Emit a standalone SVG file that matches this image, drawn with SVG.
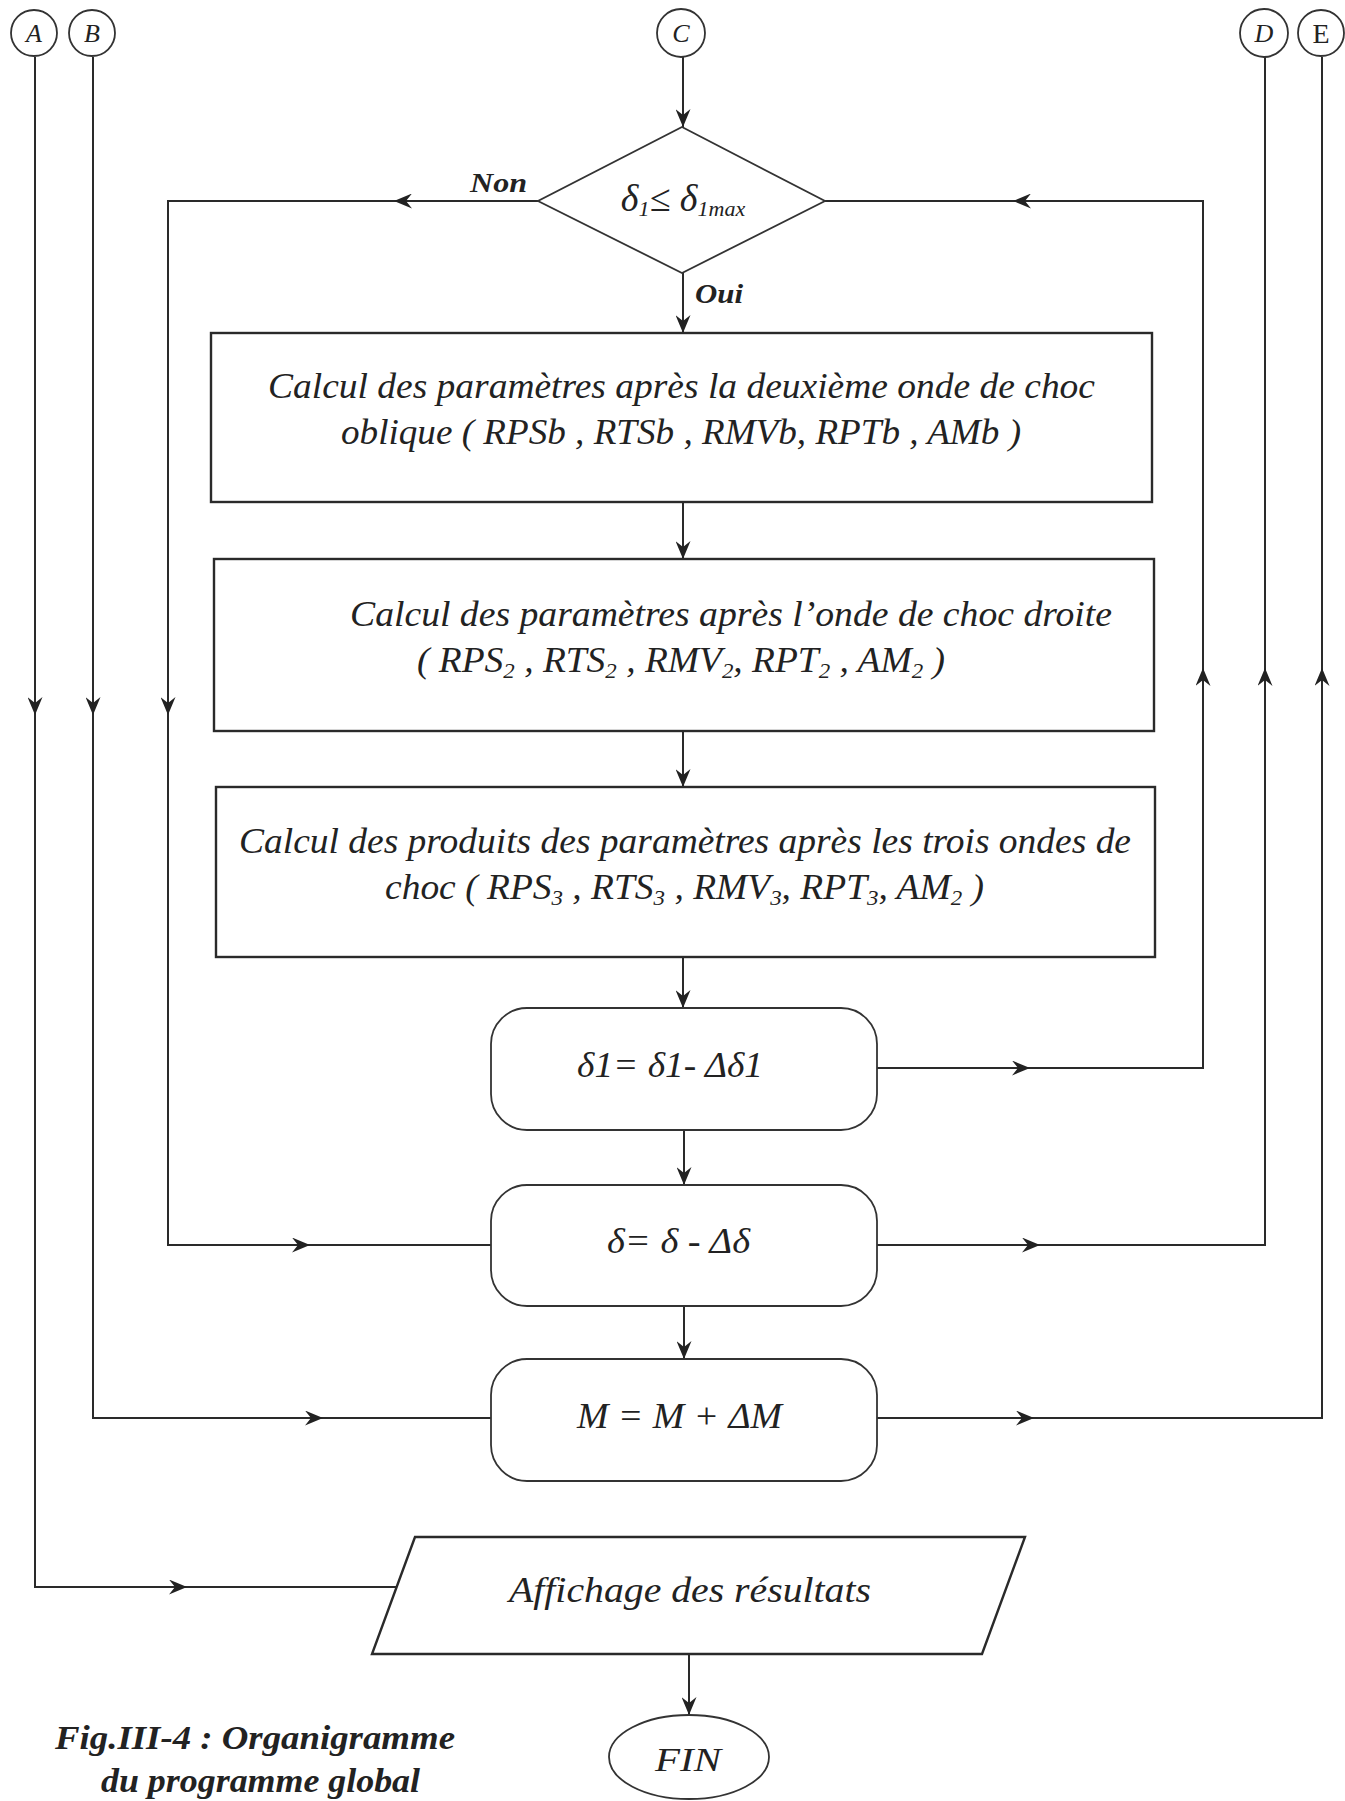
<svg xmlns="http://www.w3.org/2000/svg" width="1345" height="1801" viewBox="0 0 1345 1801">
<defs>
<style>
.shape{fill:#fff;stroke:#2a2a2a;stroke-width:2.4}
.thin{fill:#fff;stroke:#333;stroke-width:1.8}
.con{fill:none;stroke:#2a2a2a;stroke-width:2}
.t{font-family:"Liberation Serif","Times New Roman",serif;font-style:italic;fill:#222}
.b{font-family:"Liberation Serif","Times New Roman",serif;font-style:italic;font-weight:bold;fill:#222}
</style>
<marker id="arr" viewBox="0 0 12 10" refX="12" refY="5" markerUnits="userSpaceOnUse" markerWidth="20" markerHeight="15" orient="auto">
<path d="M0,0 L12,5 L0,10 L4,5 Z" fill="#222"/>
</marker>
</defs>
<rect width="1345" height="1801" fill="#fff"/>

<g id="connectors">
<path class="con" d="M683,57 V127" marker-end="url(#arr)"/>
<path class="con" d="M683,273 V333" marker-end="url(#arr)"/>
<path class="con" d="M683,502 V559" marker-end="url(#arr)"/>
<path class="con" d="M683,731 V787" marker-end="url(#arr)"/>
<path class="con" d="M683,957 V1008" marker-end="url(#arr)"/>
<path class="con" d="M684,1130 V1185" marker-end="url(#arr)"/>
<path class="con" d="M684,1306 V1359" marker-end="url(#arr)"/>
<path class="con" d="M689,1654 V1715" marker-end="url(#arr)"/>
<!-- Non loop -->
<path class="con" d="M538,201 H394" marker-end="url(#arr)"/>
<path class="con" d="M394,201 H168 V715" marker-end="url(#arr)"/>
<path class="con" d="M168,715 V1245 H310" marker-end="url(#arr)"/>
<path class="con" d="M310,1245 H491"/>
<!-- right loop back to decision -->
<path class="con" d="M877,1068 H1030" marker-end="url(#arr)"/>
<path class="con" d="M1030,1068 H1203 V668" marker-end="url(#arr)"/>
<path class="con" d="M1203,668 V201 H1013" marker-end="url(#arr)"/>
<path class="con" d="M1013,201 H825"/>
<!-- D -->
<path class="con" d="M877,1245 H1040" marker-end="url(#arr)"/>
<path class="con" d="M1040,1245 H1265 V668" marker-end="url(#arr)"/>
<path class="con" d="M1265,668 V57"/>
<!-- E -->
<path class="con" d="M877,1418 H1034" marker-end="url(#arr)"/>
<path class="con" d="M1034,1418 H1322 V668" marker-end="url(#arr)"/>
<path class="con" d="M1322,668 V57"/>
<!-- A -->
<path class="con" d="M35,57 V715" marker-end="url(#arr)"/>
<path class="con" d="M35,715 V1587 H187" marker-end="url(#arr)"/>
<path class="con" d="M187,1587 H397"/>
<!-- B -->
<path class="con" d="M93,57 V715" marker-end="url(#arr)"/>
<path class="con" d="M93,715 V1418 H323" marker-end="url(#arr)"/>
<path class="con" d="M323,1418 H491"/>
</g>

<g id="nodeA"><circle class="thin" cx="34" cy="33" r="23"/><text class="t" x="34" y="42" font-size="26" text-anchor="middle">A</text></g>
<g id="nodeB"><circle class="thin" cx="92" cy="33" r="23"/><text class="t" x="92" y="42" font-size="26" text-anchor="middle">B</text></g>
<g id="nodeC"><circle class="thin" cx="681" cy="33" r="24"/><text class="t" x="681" y="42" font-size="26" text-anchor="middle">C</text></g>
<g id="nodeD"><circle class="thin" cx="1264" cy="33" r="24"/><text class="t" x="1264" y="42" font-size="26" text-anchor="middle">D</text></g>
<g id="nodeE"><circle class="thin" cx="1321" cy="33" r="23"/><text x="1321" y="43" font-size="28" text-anchor="middle" font-family="Liberation Serif,serif" fill="#222">E</text></g>

<g id="decision">
<polygon class="thin" points="682,127 825,201 682,273 538,201"/>
<text class="t" x="683" y="211" font-size="38" text-anchor="middle">δ<tspan font-size="22" dy="5">1</tspan><tspan dy="-5">≤ δ</tspan><tspan font-size="22" dy="5">1max</tspan></text>
<text class="b" x="470" y="192" font-size="28" textLength="57" lengthAdjust="spacingAndGlyphs">Non</text>
<text class="b" x="695" y="303" font-size="28" textLength="48" lengthAdjust="spacingAndGlyphs">Oui</text>
</g>

<g id="box1">
<rect class="shape" x="211" y="333" width="941" height="169"/>
<text class="t" x="268" y="398" font-size="36" textLength="827" lengthAdjust="spacingAndGlyphs">Calcul des paramètres après la deuxième onde de choc</text>
<text class="t" x="341" y="444" font-size="36" textLength="680" lengthAdjust="spacingAndGlyphs">oblique ( RPSb , RTSb , RMVb, RPTb , AMb )</text>
</g>

<g id="box2">
<rect class="shape" x="214" y="559" width="940" height="172"/>
<text class="t" x="350" y="626" font-size="36" textLength="762" lengthAdjust="spacingAndGlyphs">Calcul des paramètres après l’onde de choc droite</text>
<text class="t" x="417" y="672" font-size="36" textLength="528" lengthAdjust="spacingAndGlyphs">( RPS<tspan font-size="22" dy="6">2</tspan><tspan dy="-6"> , RTS</tspan><tspan font-size="22" dy="6">2</tspan><tspan dy="-6"> , RMV</tspan><tspan font-size="22" dy="6">2</tspan><tspan dy="-6">, RPT</tspan><tspan font-size="22" dy="6">2</tspan><tspan dy="-6"> , AM</tspan><tspan font-size="22" dy="6">2</tspan><tspan dy="-6"> )</tspan></text>
</g>

<g id="box3">
<rect class="shape" x="216" y="787" width="939" height="170"/>
<text class="t" x="239" y="853" font-size="36" textLength="892" lengthAdjust="spacingAndGlyphs">Calcul des produits des paramètres après les trois ondes de</text>
<text class="t" x="385" y="899" font-size="36" textLength="599" lengthAdjust="spacingAndGlyphs">choc ( RPS<tspan font-size="22" dy="6">3</tspan><tspan dy="-6"> , RTS</tspan><tspan font-size="22" dy="6">3</tspan><tspan dy="-6"> , RMV</tspan><tspan font-size="22" dy="6">3</tspan><tspan dy="-6">, RPT</tspan><tspan font-size="22" dy="6">3</tspan><tspan dy="-6">, AM</tspan><tspan font-size="22" dy="6">2</tspan><tspan dy="-6"> )</tspan></text>
</g>

<g id="delta1">
<rect class="thin" x="491" y="1008" width="386" height="122" rx="36"/>
<text class="t" x="577" y="1077" font-size="36" textLength="186" lengthAdjust="spacingAndGlyphs">δ1= δ1- Δδ1</text>
</g>

<g id="delta">
<rect class="thin" x="491" y="1185" width="386" height="121" rx="36"/>
<text class="t" x="607" y="1253" font-size="36" textLength="143" lengthAdjust="spacingAndGlyphs">δ= δ - Δδ</text>
</g>

<g id="mach">
<rect class="thin" x="491" y="1359" width="386" height="122" rx="36"/>
<text class="t" x="577" y="1428" font-size="36" textLength="205" lengthAdjust="spacingAndGlyphs">M = M + ΔM</text>
</g>

<g id="affichage">
<polygon class="shape" points="415,1537 1025,1537 982,1654 372,1654"/>
<text class="t" x="509" y="1602" font-size="36" textLength="362" lengthAdjust="spacingAndGlyphs">Affichage des résultats</text>
</g>

<g id="fin">
<ellipse class="thin" cx="689" cy="1757" rx="80" ry="42"/>
<text class="t" x="655" y="1771" font-size="34" textLength="66" lengthAdjust="spacingAndGlyphs">FIN</text>
</g>

<g id="caption">
<text class="b" x="55" y="1749" font-size="34" textLength="400" lengthAdjust="spacingAndGlyphs">Fig.III-4 : Organigramme</text>
<text class="b" x="101" y="1792" font-size="34" textLength="319" lengthAdjust="spacingAndGlyphs">du programme global</text>
</g>
</svg>
